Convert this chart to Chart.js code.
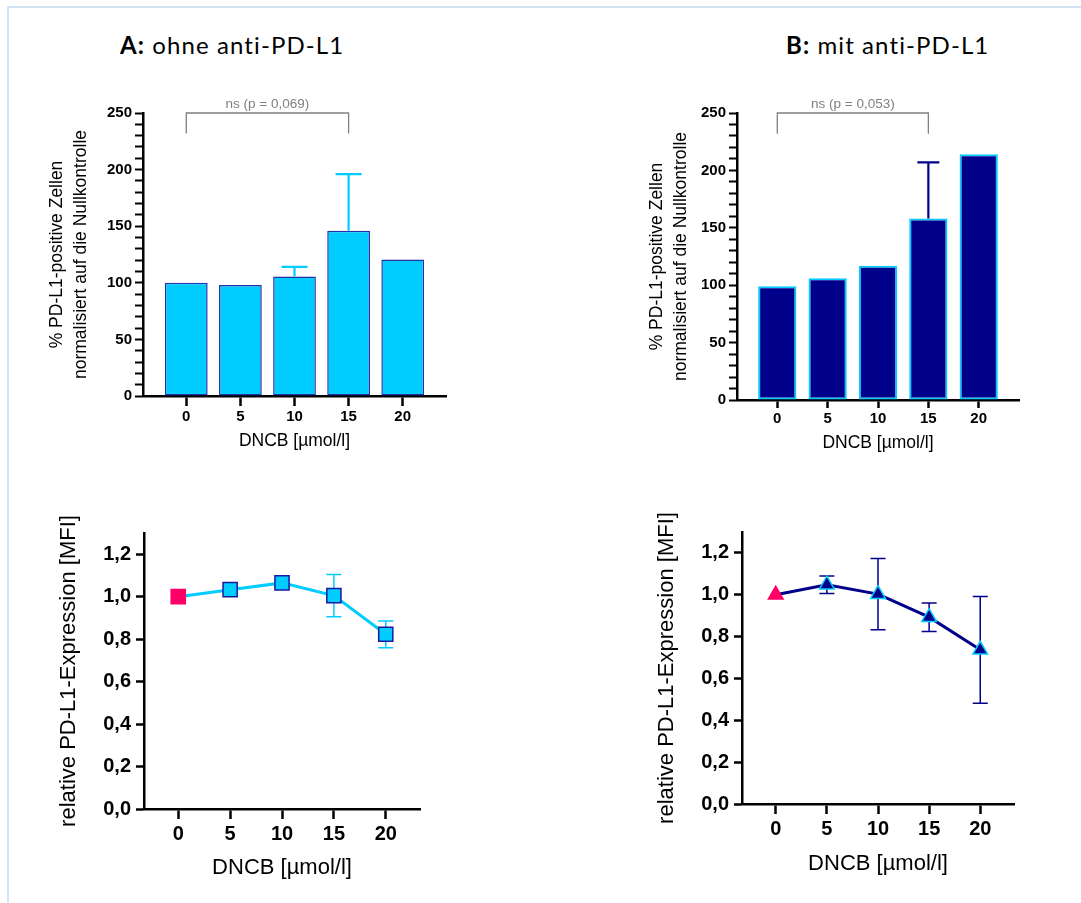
<!DOCTYPE html>
<html lang="de">
<head>
<meta charset="utf-8">
<title>PD-L1 DNCB</title>
<script src="https://cdn.jsdelivr.net/npm/chart.js@4.4.1/dist/chart.umd.min.js"></script>
<style>
  html, body { margin: 0; padding: 0; background: #fff; }
  body { width: 1081px; height: 903px; position: relative; overflow: hidden; }
  #frame { position: absolute; left: 7px; top: 6px; width: 1100px; height: 930px;
           border: 2px solid #d4e3f2; box-sizing: border-box; }
  .titel { position: absolute; top: 30px; font-family: Lato, "Noto Sans", sans-serif;
           font-size: 24px; letter-spacing: 1.1px; color: #000; white-space: nowrap; }
  .box { position: absolute; }
</style>
</head>
<body>
<div id="frame"></div>
<div class="titel" style="left:120px"><b>A:</b> ohne anti-PD-L1</div>
<div class="titel" style="left:786px"><b>B:</b> mit anti-PD-L1</div>

<div class="box" style="left:20px;top:70px;width:450px;height:390px"><canvas id="barA"></canvas></div>
<div class="box" style="left:600px;top:70px;width:450px;height:390px"><canvas id="barB"></canvas></div>
<div class="box" style="left:20px;top:490px;width:420px;height:410px"><canvas id="lineA"></canvas></div>
<div class="box" style="left:600px;top:490px;width:440px;height:410px"><canvas id="lineB"></canvas></div>

<script>
// Daten
const dncbLabels = ["0", "5", "10", "15", "20"];
const dncbDoses = [0, 5, 10, 15, 20];

// % PD-L1-positive Zellen, normalisiert auf die Nullkontrolle
const barsOhne = [100, 98, 105.5, 146, 120.5];
const barsOhneErr = [0, 0, 8.5, 50, 0];
const barsMit = [99, 106, 117, 158, 214];
const barsMitErr = [0, 0, 0, 49, 0];

// relative PD-L1-Expression [MFI]
const mfiOhne = [1.0, 1.033, 1.065, 1.005, 0.823];
const mfiOhneErr = [0, 0.015, 0.015, 0.10, 0.063];
const mfiMit = [1.0, 1.048, 1.003, 0.893, 0.737];
const mfiMitErr = [0, 0.042, 0.17, 0.068, 0.255];

const pValueOhne = "ns (p = 0,069)";
const pValueMit = "ns (p = 0,053)";

const CYAN = "#00ccff";
const NAVY = "#00008b";
const PINK = "#ff0066";

Chart.defaults.font.family = "'Liberation Sans', Arial, sans-serif";
Chart.defaults.color = "#000";
Chart.defaults.animation = false;

// Fehlerbalken zeichnen (über die Skalen des Diagramms)
const errorBarsPlugin = {
    id: "errorBars",
    draw(chart) {
        const o = chart.options.plugins.errorBars;
        if (!o || !o.values) return;
        const ctx = chart.ctx;
        const xs = chart.scales.x, ys = chart.scales.y;
        const pts = chart.data.datasets[0].data;
        ctx.save();
        ctx.strokeStyle = o.color;
        ctx.lineWidth = o.width;
        pts.forEach((p, i) => {
            const e = o.values[i];
            if (!e) return;
            const x = xs.getPixelForValue(p.x);
            const yTop = ys.getPixelForValue(p.y + e);
            const yBot = ys.getPixelForValue(o.oneSided ? p.y : p.y - e);
            ctx.beginPath();
            ctx.moveTo(x, yBot);
            ctx.lineTo(x, yTop);
            ctx.moveTo(x - o.cap / 2, yTop);
            ctx.lineTo(x + o.cap / 2, yTop);
            if (!o.oneSided) {
                ctx.moveTo(x - o.cap / 2, yBot);
                ctx.lineTo(x + o.cap / 2, yBot);
            }
            ctx.stroke();
        });
        ctx.restore();
    },
    beforeDatasetsDraw(chart) {
        const o = chart.options.plugins.errorBars;
        if (o && o.behind) this.draw(chart);
    },
    afterDatasetsDraw(chart) {
        const o = chart.options.plugins.errorBars;
        if (o && !o.behind) this.draw(chart);
    }
};

// Signifikanz-Klammer
const bracketPlugin = {
    id: "bracket",
    afterDraw(chart) {
        const o = chart.options.plugins.bracket;
        if (!o || !o.text) return;
        const ctx = chart.ctx;
        const xs = chart.scales.x, ys = chart.scales.y;
        const x1 = xs.getPixelForValue(o.from);
        const x2 = xs.getPixelForValue(o.to);
        const yT = ys.getPixelForValue(o.top);
        const yB = ys.getPixelForValue(o.bottom);
        ctx.save();
        ctx.strokeStyle = "#808080";
        ctx.lineWidth = 1.3;
        ctx.beginPath();
        ctx.moveTo(x1, yB);
        ctx.lineTo(x1, yT);
        ctx.lineTo(x2, yT);
        ctx.lineTo(x2, yB);
        ctx.stroke();
        ctx.fillStyle = "#808080";
        ctx.font = "13.5px 'Liberation Sans', Arial, sans-serif";
        ctx.textAlign = "center";
        ctx.textBaseline = "alphabetic";
        ctx.fillText(o.text, (x1 + x2) / 2, yT - 5);
        ctx.restore();
    }
};

function fixSize(w, h) {
    return function (scale) {
        if (w !== undefined) scale.width = w;
        if (h !== undefined) scale.height = h;
    };
}

function barChart(id, values, errors, fill, border, barPct, pText, lay) {
    const points = values.map((v, i) => ({ x: i, y: v }));
    return new Chart(document.getElementById(id), {
        type: "bar",
        data: {
            datasets: [{
                data: points,
                backgroundColor: fill,
                borderColor: border,
                borderWidth: lay.bw,
                borderSkipped: false,
                categoryPercentage: 1,
                barPercentage: barPct
            }]
        },
        options: {
            responsive: true,
            maintainAspectRatio: false,
            layout: { padding: { left: lay.padL, top: 43, right: lay.padR, bottom: 0 } },
            plugins: {
                legend: { display: false },
                tooltip: { enabled: false },
                errorBars: { values: errors, color: lay.errColor, width: 2.2, cap: lay.cap, oneSided: true },
                bracket: { from: 0, to: 3, top: 250, bottom: 232, text: pText }
            },
            scales: {
                x: {
                    type: "linear",
                    min: -0.8,
                    max: 4.8,
                    offset: false,
                    afterFit: fixSize(undefined, lay.xH),
                    border: { display: true, color: "#000", width: 2.5 },
                    grid: { offset: false, drawOnChartArea: false, drawTicks: true, tickLength: lay.xTick, tickColor: "#000", tickWidth: 2.5 },
                    ticks: {
                        stepSize: 1,
                        includeBounds: false,
                        padding: 2,
                        font: { size: 15, weight: "bold" },
                        callback: v => dncbLabels[v]
                    },
                    title: {
                        display: true,
                        text: "DNCB [µmol/l]",
                        font: { size: 17.5 },
                        padding: { top: 0, bottom: lay.xTitlePad }
                    }
                },
                y: {
                    min: 0,
                    max: 250,
                    afterFit: fixSize(lay.yW, undefined),
                    border: { display: true, color: "#000", width: 2.5 },
                    grid: { drawOnChartArea: false, tickLength: 8, tickColor: "#000", tickWidth: 2 },
                    ticks: {
                        stepSize: 10,
                        autoSkip: false,
                        maxTicksLimit: 100,
                        padding: 3,
                        font: { size: 15, weight: "bold" },
                        callback: v => (v % 50 === 0 ? String(v) : "")
                    },
                    title: {
                        display: true,
                        text: ["% PD-L1-positive Zellen", "normalisiert auf die Nullkontrolle"],
                        font: { size: 17.5, lineHeight: 1.33 },
                        padding: { top: lay.yTitlePad, bottom: 0 }
                    }
                }
            }
        },
        plugins: [errorBarsPlugin, bracketPlugin]
    });
}

function lineChart(id, values, errors, lineColor, markFill, markBorder, style, radius, lay) {
    const points = values.map((v, i) => ({ x: dncbDoses[i], y: v }));
    return new Chart(document.getElementById(id), {
        type: "line",
        data: {
            datasets: [{
                data: points,
                borderColor: lineColor,
                borderWidth: 3,
                pointStyle: style,
                pointRadius: radius,
                pointBorderWidth: 1.5,
                pointBackgroundColor: c => (c.dataIndex === 0 ? PINK : markFill),
                pointBorderColor: c => (c.dataIndex === 0 ? PINK : markBorder)
            }]
        },
        options: {
            responsive: true,
            maintainAspectRatio: false,
            layout: { padding: { left: lay.padL, top: lay.padT, right: lay.padR, bottom: 0 } },
            plugins: {
                legend: { display: false },
                tooltip: { enabled: false },
                errorBars: { values: errors, color: lay.errColor, width: 1.5, cap: 15, behind: true }
            },
            scales: {
                x: {
                    type: "linear",
                    min: -3.3,
                    max: 23.3,
                    afterFit: fixSize(undefined, lay.xH),
                    border: { display: true, color: "#000", width: 2.5 },
                    grid: { drawOnChartArea: false, tickLength: 10, tickColor: "#000", tickWidth: 2.5 },
                    ticks: {
                        stepSize: 5,
                        includeBounds: false,
                        padding: 3,
                        font: { size: 20, weight: "bold" }
                    },
                    title: {
                        display: true,
                        text: "DNCB [µmol/l]",
                        font: { size: 22 },
                        padding: { top: 0, bottom: lay.xTitlePad }
                    }
                },
                y: {
                    min: 0,
                    max: 1.3,
                    afterFit: fixSize(lay.yW, undefined),
                    border: { display: true, color: "#000", width: 2.5 },
                    grid: { drawOnChartArea: false, tickLength: 8, tickColor: "#000", tickWidth: 2.5 },
                    ticks: {
                        stepSize: 0.2,
                        includeBounds: false,
                        padding: 5,
                        font: { size: 20, weight: "bold" },
                        callback: v => v.toFixed(1).replace(".", ",")
                    },
                    title: {
                        display: true,
                        text: "relative PD-L1-Expression [MFI]",
                        font: { size: 22 },
                        padding: { top: 10, bottom: 0 }
                    }
                }
            }
        },
        plugins: [errorBarsPlugin]
    });
}

barChart("barA", barsOhne, barsOhneErr, CYAN, "#2233aa", 0.79, pValueOhne,
    { padL: 20, padR: 24, yW: 103, xH: 64, xTick: 10, xTitlePad: 8, yTitlePad: 6, bw: 1.5, errColor: CYAN, cap: 26 });
barChart("barB", barsMit, barsMitErr, NAVY, CYAN, 0.76, pValueMit,
    { padL: 37, padR: 31, yW: 100, xH: 60, xTick: 8, xTitlePad: 6, yTitlePad: 9, bw: 2, errColor: NAVY, cap: 22 });

lineChart("lineA", mfiOhne, mfiOhneErr, CYAN, CYAN, "#1a1aa0", "rect", 10,
    { padL: 26, padT: 43, padR: 20, yW: 98, xH: 91, xTitlePad: 19, errColor: CYAN });
lineChart("lineB", mfiMit, mfiMitErr, NAVY, NAVY, CYAN, "triangle", 8.5,
    { padL: 44, padT: 42, padR: 26, yW: 98, xH: 96, xTitlePad: 23, errColor: NAVY });
</script>
</body>
</html>
